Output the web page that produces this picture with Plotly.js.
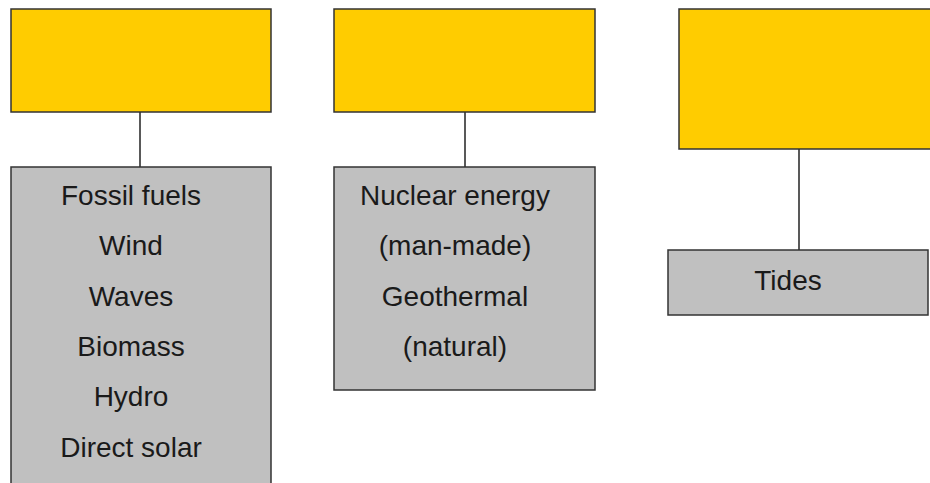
<!DOCTYPE html>
<html>
<head>
<meta charset="utf-8">
<script src="https://cdn.plot.ly/plotly-3.0.1.min.js"></script>
<style>html,body{margin:0;padding:0;background:#fff;}#chart{width:930px;height:483px;}</style>
</head>
<body>
<div id="chart"></div>
<script>
// ---- content (data) ----
const groupNames = ["Renewable", "Non-renewable", "Tidal"];
const labelsGroup1 = ["Fossil fuels", "Wind", "Waves", "Biomass", "Hydro", "Direct solar"];
const labelsGroup2 = ["Nuclear energy", "(man-made)", "Geothermal", "(natural)"];
const labelsGroup3 = ["Tides"];
const groupLabels = [labelsGroup1, labelsGroup2, labelsGroup3];

// ---- layout geometry (pixels on a 930x483 canvas) ----
const geom = [
  {head: [11, 9, 271, 112],  body: [11, 167, 271, 490], link: 140, textX: 131, textY0: 198},
  {head: [334, 9, 595, 112], body: [334, 167, 595, 390], link: 465, textX: 455, textY0: 198},
  {head: [679, 9, 940, 149], body: [668, 250, 928, 315], link: 799, textX: 788, textY0: 283}
];
const lineStep = 50.3;

const shapes = [];
const tx = [], ty = [], tt = [];
geom.forEach((g, i) => {
  shapes.push({type: 'line', layer: 'below', xref: 'x', yref: 'y', x0: g.link, x1: g.link, y0: g.head[3], y1: g.body[1],
    line: {color: '#222', width: 1.5}});
  shapes.push({type: 'rect', layer: 'below', xref: 'x', yref: 'y', x0: g.head[0], y0: g.head[1], x1: g.head[2], y1: g.head[3],
    fillcolor: '#FFCC00', line: {color: '#333', width: 1.5}});
  shapes.push({type: 'rect', layer: 'below', xref: 'x', yref: 'y', x0: g.body[0], y0: g.body[1], x1: g.body[2], y1: g.body[3],
    fillcolor: '#C0C0C0', line: {color: '#333', width: 1.5}});
  groupLabels[i].forEach((t, k) => {
    tx.push(g.textX); ty.push(g.textY0 + k * lineStep); tt.push(t);
  });
});

const trace = {
  type: 'scatter', mode: 'text', x: tx, y: ty, text: tt,
  textposition: 'middle center',
  textfont: {family: 'Liberation Sans, Arial, sans-serif', size: 28, color: '#1a1a1a'},
  hoverinfo: 'skip', showlegend: false, cliponaxis: false
};

const layout = {
  width: 930, height: 483,
  margin: {l: 0, r: 0, t: 0, b: 0},
  paper_bgcolor: '#fff', plot_bgcolor: 'rgba(0,0,0,0)',
  xaxis: {range: [0, 930], visible: false, fixedrange: true, showgrid: false, zeroline: false},
  yaxis: {range: [483, 0], visible: false, fixedrange: true, showgrid: false, zeroline: false},
  shapes: shapes,
  showlegend: false
};

Plotly.newPlot('chart', [trace], layout, {staticPlot: true, displayModeBar: false});
</script>
</body>
</html>
